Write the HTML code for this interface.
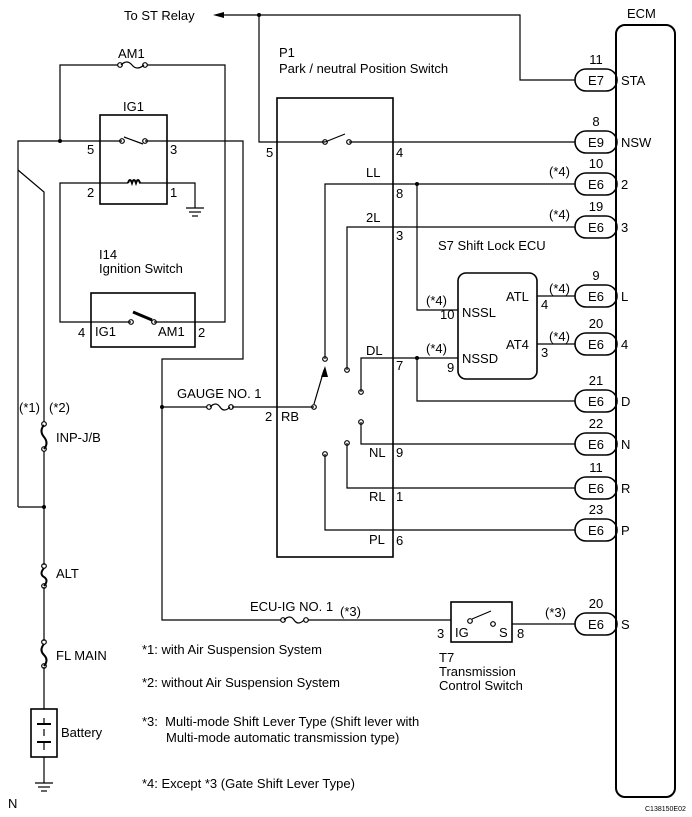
<!DOCTYPE html>
<html><head><style>html,body{margin:0;padding:0;background:#fff}svg{display:block}text{font-family:"Liberation Sans",sans-serif;font-size:13px;fill:#000}</style></head><body>
<svg width="692" height="817" viewBox="0 0 692 817" xmlns="http://www.w3.org/2000/svg">
<g fill="none" stroke="#000" stroke-width="1.2">
<rect x="616" y="25" width="59" height="772" rx="9" stroke-width="2"/>
<polyline points="222,15 520,15 520,80 575,80"/>
<polyline points="259,15 259,142 325,142"/>
<line x1="325" y1="142" x2="345" y2="134"/>
<line x1="349" y1="142" x2="575" y2="142"/>
<rect x="277" y="98" width="116" height="459" stroke-width="1.6"/>
<polyline points="325,359 325,184 575,184"/>
<polyline points="417,184 417,310 458,310"/>
<polyline points="347,370 347,227 575,227"/>
<polyline points="361,392 361,358 458,358"/>
<polyline points="417,358 417,401 575,401"/>
<polyline points="361,422 361,444 575,444"/>
<polyline points="347,443 347,488 575,488"/>
<polyline points="325,454 325,530 575,530"/>
<line x1="537" y1="296" x2="575" y2="296"/>
<line x1="537" y1="344" x2="575" y2="344"/>
<rect x="458" y="273" width="79" height="106" rx="8" stroke-width="1.6"/>
<line x1="314" y1="404" x2="324" y2="370"/>
<polyline points="60,141 60,65 118,65"/>
<polyline points="147,65 225,65 225,322 154,322"/>
<polyline points="18,507 18,141 122,141"/>
<polyline points="145,141 243,141 243,359 162,359 162,620 281,620"/>
<rect x="100" y="115" width="67" height="89" stroke-width="1.6"/>
<polyline points="131,322 60,322 60,183 128,183"/>
<polyline points="139,183 195,183 195,208"/>
<rect x="91" y="293" width="104" height="54" stroke-width="1.6"/>
<line x1="162" y1="407" x2="207" y2="407"/>
<line x1="232" y1="407" x2="314" y2="407"/>
<line x1="308" y1="620" x2="451" y2="620"/>
<rect x="451" y="602" width="61" height="40" stroke-width="1.6"/>
<line x1="512" y1="624" x2="575" y2="624"/>
<polyline points="18,170 44,192 44,422"/>
<line x1="44" y1="451" x2="44" y2="565"/>
<line x1="18" y1="507" x2="44" y2="507"/>
<line x1="44" y1="587" x2="44" y2="641"/>
<line x1="44" y1="667" x2="44" y2="709"/>
<line x1="44" y1="757" x2="44" y2="783"/>
<rect x="31" y="709" width="26" height="48" stroke-width="1.6"/>
<line x1="37" y1="724" x2="51" y2="724" stroke-width="2"/><line x1="44" y1="718" x2="44" y2="724"/>
<line x1="44" y1="729" x2="44" y2="736"/>
<line x1="37" y1="742" x2="51" y2="742" stroke-width="2"/><line x1="44" y1="742" x2="44" y2="750"/>
<line x1="186" y1="208" x2="204" y2="208"/><line x1="189" y1="212" x2="201" y2="212"/><line x1="192" y1="216" x2="198" y2="216"/>
<line x1="35" y1="783" x2="53" y2="783"/><line x1="38" y1="787" x2="50" y2="787"/><line x1="41" y1="791" x2="47" y2="791"/>
<path d="M121,65 q6,-6 11,0 t12,0"/><circle cx="120" cy="65" r="2.3"/><circle cx="145" cy="65" r="2.3"/>
<path d="M210,407 q6,-6 10,0 t10,0"/><circle cx="209" cy="407" r="2.3"/><circle cx="231" cy="407" r="2.3"/>
<path d="M284,620 q6,-6 10,0 t10,0"/><circle cx="283" cy="620" r="2.3"/><circle cx="306" cy="620" r="2.3"/>
<path d="M44,425 q-5,6 0,12 t0,12" stroke-width="2"/><circle cx="44" cy="424" r="2.3"/><circle cx="44" cy="449" r="2.3"/>
<path d="M44,568 q-5,6 0,9 t0,9" stroke-width="2"/><circle cx="44" cy="566" r="2.3"/><circle cx="44" cy="586" r="2.3"/>
<path d="M44,644 q-5,6 0,11 t0,11" stroke-width="2"/><circle cx="44" cy="642" r="2.3"/><circle cx="44" cy="666" r="2.3"/>
<circle cx="122" cy="141" r="2.3"/><circle cx="145" cy="141" r="2.3"/><line x1="124" y1="137" x2="143" y2="144"/>
<circle cx="131" cy="322" r="2.3"/><circle cx="154" cy="322" r="2.3"/><line x1="133" y1="312" x2="152" y2="320" stroke-width="3"/>
<circle cx="325" cy="142" r="2.3"/><circle cx="349" cy="142" r="2.3"/>
<circle cx="325" cy="359" r="2.3"/><circle cx="347" cy="370" r="2.3"/><circle cx="361" cy="392" r="2.3"/>
<circle cx="361" cy="422" r="2.3"/><circle cx="347" cy="443" r="2.3"/><circle cx="325" cy="454" r="2.3"/>
<circle cx="314" cy="407" r="2.3"/>
<circle cx="470" cy="621" r="2.3"/><circle cx="493" cy="624" r="2.3"/><line x1="472" y1="619" x2="491" y2="611"/>
<path d="M128,183 q2,-6 4,0 q2,-6 4,0 q2,-6 4,0" stroke-width="2"/>
<g stroke-width="1.6">
<rect x="575" y="69" width="42" height="22" rx="11"/>
<rect x="575" y="131" width="42" height="22" rx="11"/>
<rect x="575" y="173" width="42" height="22" rx="11"/>
<rect x="575" y="216" width="42" height="22" rx="11"/>
<rect x="575" y="285" width="42" height="22" rx="11"/>
<rect x="575" y="333" width="42" height="22" rx="11"/>
<rect x="575" y="390" width="42" height="22" rx="11"/>
<rect x="575" y="433" width="42" height="22" rx="11"/>
<rect x="575" y="477" width="42" height="22" rx="11"/>
<rect x="575" y="519" width="42" height="22" rx="11"/>
<rect x="575" y="613" width="42" height="22" rx="11"/>
</g>
</g>
<g fill="#000">
<polygon points="213,15 224,12 224,18"/>
<polygon points="325,366 321,377 328,377"/>
<circle cx="259" cy="15" r="2"/><circle cx="60" cy="141" r="2"/><circle cx="162" cy="407" r="2"/>
<circle cx="417" cy="184" r="2"/><circle cx="417" cy="358" r="2"/><circle cx="44" cy="507" r="2"/>
</g>
<text x="124" y="20">To ST Relay</text>
<text x="627" y="18">ECM</text>
<text x="118" y="58">AM1</text>
<text x="279" y="57">P1</text>
<text x="279" y="73">Park / neutral Position Switch</text>
<text x="123" y="111">IG1</text>
<text x="87" y="154">5</text><text x="170" y="154">3</text>
<text x="87" y="197">2</text><text x="170" y="197">1</text>
<text x="99" y="259">I14</text><text x="99" y="273">Ignition Switch</text>
<text x="78" y="337">4</text><text x="95" y="336">IG1</text><text x="158" y="336">AM1</text><text x="198" y="337">2</text>
<text x="266" y="157">5</text><text x="396" y="157">4</text>
<text x="366" y="177">LL</text><text x="396" y="198">8</text>
<text x="366" y="222">2L</text><text x="396" y="240">3</text>
<text x="366" y="355">DL</text><text x="396" y="370">7</text>
<text x="369" y="457">NL</text><text x="396" y="457">9</text>
<text x="369" y="501">RL</text><text x="396" y="501">1</text>
<text x="369" y="544">PL</text><text x="396" y="545">6</text>
<text x="265" y="421">2</text><text x="281" y="421">RB</text>
<text x="177" y="398">GAUGE NO. 1</text>
<text x="438" y="250">S7 Shift Lock ECU</text>
<text x="462" y="317">NSSL</text><text x="462" y="363">NSSD</text>
<text x="506" y="301">ATL</text><text x="506" y="349">AT4</text>
<text x="541" y="309">4</text><text x="541" y="357">3</text>
<text x="440" y="319">10</text><text x="447" y="372">9</text>
<text x="426" y="305">(*4)</text><text x="426" y="353">(*4)</text>
<text x="549" y="293">(*4)</text><text x="549" y="341">(*4)</text>
<text x="549" y="176">(*4)</text><text x="549" y="219">(*4)</text>
<g text-anchor="middle">
<text x="596" y="85">E7</text><text x="596" y="147">E9</text>
<text x="596" y="189">E6</text><text x="596" y="232">E6</text>
<text x="596" y="301">E6</text><text x="596" y="349">E6</text>
<text x="596" y="406">E6</text><text x="596" y="449">E6</text>
<text x="596" y="493">E6</text><text x="596" y="535">E6</text>
<text x="596" y="629">E6</text>
<text x="596" y="64">11</text><text x="596" y="126">8</text>
<text x="596" y="168">10</text><text x="596" y="211">19</text>
<text x="596" y="280">9</text><text x="596" y="328">20</text>
<text x="596" y="385">21</text><text x="596" y="428">22</text>
<text x="596" y="472">11</text><text x="596" y="514">23</text>
<text x="596" y="608">20</text>
</g>
<text x="621" y="85">STA</text><text x="621" y="147">NSW</text>
<text x="621" y="189">2</text><text x="621" y="232">3</text>
<text x="621" y="301">L</text><text x="621" y="349">4</text>
<text x="621" y="406">D</text><text x="621" y="449">N</text>
<text x="621" y="493">R</text><text x="621" y="535">P</text>
<text x="621" y="629">S</text>
<text x="19" y="412">(*1)</text><text x="49" y="412">(*2)</text>
<text x="56" y="442">INP-J/B</text>
<text x="56" y="578">ALT</text>
<text x="56" y="660">FL MAIN</text>
<text x="61" y="737">Battery</text>
<text x="8" y="808">N</text>
<text x="250" y="611">ECU-IG NO. 1</text>
<text x="340" y="616">(*3)</text>
<text x="545" y="617">(*3)</text>
<text x="437" y="638">3</text><text x="455" y="637">IG</text><text x="499" y="637">S</text><text x="517" y="638">8</text>
<text x="439" y="662">T7</text><text x="439" y="676">Transmission</text><text x="439" y="690">Control Switch</text>
<text x="142" y="654">*1: with Air Suspension System</text>
<text x="142" y="687">*2: without Air Suspension System</text>
<text x="142" y="726" xml:space="preserve">*3:  Multi-mode Shift Lever Type (Shift lever with</text>
<text x="166" y="742">Multi-mode automatic transmission type)</text>
<text x="142" y="788">*4: Except *3 (Gate Shift Lever Type)</text>
<text x="645" y="811" style="font-size:7px">C138150E02</text>
</svg>
</body></html>
